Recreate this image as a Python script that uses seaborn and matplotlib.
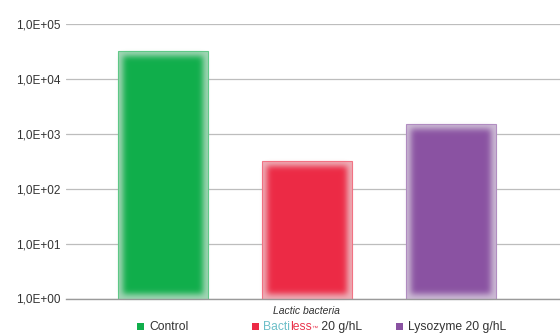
import numpy as np
import pandas as pd
import matplotlib
matplotlib.use("Agg")
import matplotlib.pyplot as plt
import seaborn as sns
from matplotlib.patches import Rectangle
from matplotlib.colors import to_rgb
from matplotlib.ticker import NullLocator
from matplotlib.offsetbox import TextArea, DrawingArea, HPacker, AnnotationBbox

# ---- data ----
category = ["Lactic bacteria"]
treatments = ["Control", "Bactiless 20 g/hL", "Lysozyme 20 g/hL"]
values = [33000, 316, 1500]
colors = ["#10ae4b", "#ec2a45", "#8a52a2"]
ytick_values = [1, 10, 100, 1000, 10000, 100000]
ytick_labels = ["1,0E+00", "1,0E+01", "1,0E+02", "1,0E+03", "1,0E+04", "1,0E+05"]

df = pd.DataFrame({"group": category * len(treatments),
                   "treatment": treatments,
                   "cfu": values})


class SoftFill:
    """agg filter: erode the shape, then gaussian blur -> soft inner glow."""
    def __init__(self, color, erode_px=5, sigma_px=2.5):
        self.rgb = np.array(to_rgb(color))
        self.erode = erode_px
        self.sigma = sigma_px

    def __call__(self, im, dpi):
        s = dpi / 100.0
        r = int(round(self.erode * s))
        sig = self.sigma * s
        k = int(np.ceil(3 * sig))
        pad = r + k + 2
        a = np.pad(im[..., 3], pad)
        for axis in (0, 1):
            acc = a.copy()
            for sh in range(1, r + 1):
                acc = np.minimum(acc, np.roll(a, sh, axis=axis))
                acc = np.minimum(acc, np.roll(a, -sh, axis=axis))
            a = acc
        xs = np.arange(-k, k + 1)
        w = np.exp(-xs ** 2 / (2 * sig ** 2))
        w /= w.sum()
        for axis in (0, 1):
            acc = np.zeros_like(a)
            for sh, wt in zip(xs, w):
                acc += wt * np.roll(a, sh, axis=axis)
            a = acc
        out = np.zeros(a.shape + (4,))
        out[..., :3] = self.rgb
        out[..., 3] = np.clip(a, 0, 1)
        return out, -pad, -pad


sns.set_theme(style="white")
plt.rcParams["font.family"] = ["Liberation Sans", "DejaVu Sans"]

W, H = 560, 333
fig = plt.figure(figsize=(W / 100, H / 100), dpi=100)
ax_left, ax_right, ax_top, ax_bottom = 66, 560, 24.3, 298.5
ax = fig.add_axes([ax_left / W, 1 - ax_bottom / H,
                   (ax_right - ax_left) / W, (ax_bottom - ax_top) / H])
ax.set_yscale("log")

def tint(c, f):
    return tuple(f * np.array(to_rgb(c)) + (1 - f))

pale = {t: tint(c, 0.42) for t, c in zip(treatments, colors)}
sns.barplot(data=df, x="group", y="cfu", hue="treatment", hue_order=treatments,
            palette=pale, width=0.8, gap=0.377, legend=False, ax=ax,
            linewidth=0.8, zorder=2)

bar_patches = list(ax.patches)
centers = []
for p, c in zip(bar_patches, colors):
    p.set_edgecolor(tint(c, 0.65))
    x0, w, h = p.get_x(), p.get_width(), p.get_height()
    centers.append(x0 + w / 2)
    r = Rectangle((x0, 1), w, h - 1, facecolor=c, edgecolor="none", zorder=3)
    ax.add_patch(r)
    r.set_agg_filter(SoftFill(c, erode_px=5, sigma_px=3))

ax.set_ylim(1, 1e5)
ax.set_xlim(-0.446, 0.4685)
ax.set_yticks(ytick_values, ytick_labels)
ax.yaxis.set_minor_locator(NullLocator())
ax.set_axisbelow(True)
ax.yaxis.grid(True, color="#bdbdbd", linewidth=0.9)
ax.xaxis.grid(False)
for side in ("top", "right", "left"):
    ax.spines[side].set_visible(False)
ax.spines["bottom"].set_color("#9a9a9a")
ax.spines["bottom"].set_linewidth(1.0)
ax.tick_params(axis="y", length=0, pad=3.8, labelsize=8.5, labelcolor="#333333")
ax.tick_params(axis="x", length=0, pad=5.5, labelsize=7.5, labelcolor="#333333")
for lbl in ax.get_xticklabels():
    lbl.set_fontstyle("italic")
ax.set_xlabel("")
ax.set_ylabel("")

# ---- legend: each entry centred under its bar ----
def square(color):
    da = DrawingArea(5, 5, 0, 0)
    da.add_artist(Rectangle((0, 0), 5, 5, facecolor=color, edgecolor="none"))
    return da

fs = 8.7
txt = dict(color="#333333", fontsize=fs)
entries = [
    [TextArea("Control", textprops=txt)],
    [TextArea("Bacti", textprops=dict(color="#6cbfc8", fontsize=fs)),
     TextArea("less", textprops=dict(color="#e9334b", fontsize=fs)),
     TextArea("™", textprops=dict(color="#e9334b", fontsize=4.5)),
     TextArea(" 20 g/hL", textprops=txt)],
    [TextArea("Lysozyme 20 g/hL", textprops=txt)],
]
for cx, c, parts in zip(centers, colors, entries):
    label = HPacker(children=parts, sep=0, pad=0, align="baseline")
    box = HPacker(children=[square(c), label], sep=3.3, pad=0, align="baseline")
    ab = AnnotationBbox(box, (cx, -0.103), xycoords=("data", "axes fraction"),
                        frameon=False, box_alignment=(0.5, 0.5), pad=0,
                        annotation_clip=False)
    ax.add_artist(ab)

fig.savefig("out.png", dpi=100)
